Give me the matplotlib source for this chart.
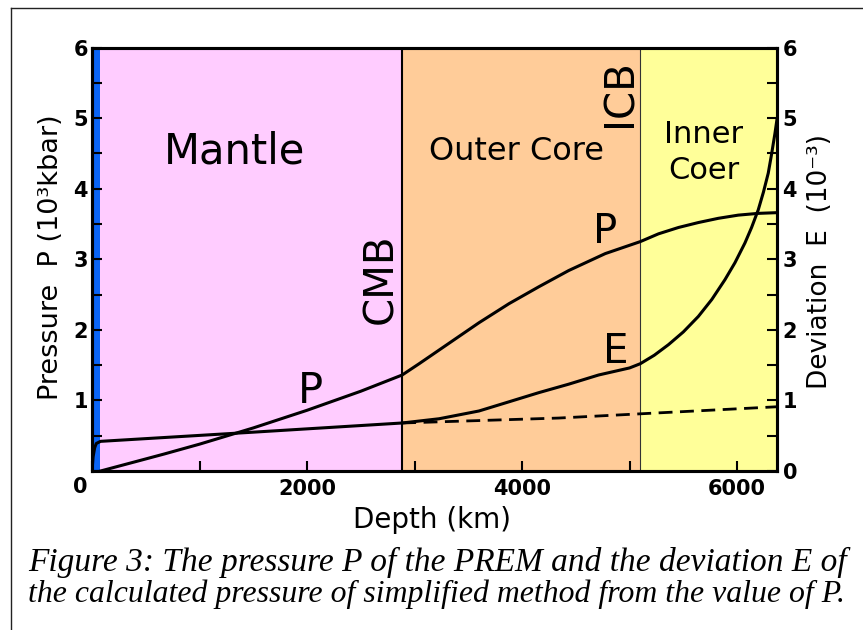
import matplotlib
matplotlib.use('Agg')
import matplotlib.pyplot as plt
from matplotlib.lines import Line2D

plt.rcParams['font.family'] = 'DejaVu Sans'

# Earth layers (depth in km)
layer_top    = [0, 75, 2885, 5100]
layer_bottom = [75, 2885, 5100, 6371]
layer_colors = ['#0A64F5', '#FFCCFF', '#FFCC99', '#FFFF99']

# PREM pressure P (10^3 kbar)
p_depth = [80, 400, 670, 1000, 1500, 2000, 2500, 2885, 3043, 3321, 3599, 3878,
           4156, 4434, 4774, 5100, 5269, 5455, 5640, 5826, 6011, 6197, 6371]
p_val   = [0.0, 0.13, 0.24, 0.38, 0.61, 0.86, 1.13, 1.36, 1.52, 1.81, 2.10, 2.37,
           2.61, 2.84, 3.08, 3.25, 3.36, 3.45, 3.52, 3.58, 3.625, 3.65, 3.66]

# deviation E (10^-3)
e_depth = [0, 10, 25, 40, 80, 1500, 2885, 3228, 3599, 3878, 4156, 4434, 4712,
           5000, 5100, 5230, 5362, 5500, 5640, 5765, 5887, 5980, 6073, 6135,
           6197, 6245, 6290, 6320, 6352, 6371]
e_val   = [0.0, 0.2, 0.33, 0.39, 0.42, 0.55, 0.68, 0.74, 0.85, 0.98, 1.11, 1.23, 1.36,
           1.46, 1.52, 1.64, 1.79, 1.97, 2.19, 2.43, 2.71, 2.95, 3.23, 3.45,
           3.70, 3.95, 4.22, 4.48, 4.78, 4.98]

# deviation of the simplified method (dashed)
es_depth = [2885, 4340, 5100, 6371]
es_val   = [0.68, 0.75, 0.81, 0.91]

fig = plt.figure(figsize=(8.63, 6.30), dpi=100)
ax = fig.add_axes([0.1066, 0.2524, 0.7937, 0.6722])

for t, b, c in zip(layer_top, layer_bottom, layer_colors):
    ax.axvspan(t, b, color=c, lw=0, zorder=0)
ax.axvline(layer_top[2], color='black', lw=1.5, zorder=1)
ax.axvline(layer_top[3], color='#333333', lw=0.8, zorder=1)

ax.plot(p_depth, p_val, color='black', lw=2.2, zorder=3)

ax2 = ax.twinx()
ax2.plot(e_depth, e_val, color='black', lw=2.2)
ax2.plot(es_depth, es_val, color='black', lw=2.0, dashes=(5, 2.7))

ax.set_xlim(0, 6371)
ax.set_ylim(0, 6)
ax2.set_ylim(0, 6)

ax.set_xticks([0, 2000, 4000, 6000])
ax.set_xticklabels(['', '2000', '4000', '6000'], fontsize=15, fontweight='bold')
ax.set_xticks([1000, 3000, 5000], minor=True)
ax.set_yticks(range(7))
ax.set_yticklabels(['', '1', '2', '3', '4', '5', '6'], fontsize=15, fontweight='bold')
ax.set_yticks([0.5, 1.5, 2.5, 3.5, 4.5, 5.5], minor=True)
ax2.set_yticks(range(7))
ax2.set_yticklabels(['0', '1', '2', '3', '4', '5', '6'], fontsize=15, fontweight='bold')
ax2.set_yticks([0.5, 1.5, 2.5, 3.5, 4.5, 5.5], minor=True)

ax.tick_params(which='both', direction='in', length=7, width=1.5, top=False, right=False)
ax.tick_params(axis='x', pad=6)
ax.tick_params(axis='y', pad=3)
ax2.tick_params(which='both', direction='in', length=7, width=1.5, pad=4)
for a in (ax, ax2):
    for s in a.spines.values():
        s.set_linewidth(2.2)

# origin label
ax.text(-0.0175, -0.038, '0', transform=ax.transAxes, ha='center', va='center',
        fontsize=15, fontweight='bold')

# axis titles
ax.text(-0.0599, 0.505, 'Pressure  P (10³kbar)', transform=ax.transAxes,
        rotation=90, ha='center', va='center', fontsize=19.5)
ax.text(1.063, 0.494, 'Deviation  E  (10⁻³)', transform=ax.transAxes,
        rotation=90, ha='center', va='center', fontsize=19)
ax.text(0.496, -0.1157, 'Depth (km)', transform=ax.transAxes,
        ha='center', va='center', fontsize=20)

# region and curve labels
ax.text(1327, 4.52, 'Mantle', ha='center', va='center', fontsize=30)
ax.text(3952, 4.52, 'Outer Core', ha='center', va='center', fontsize=23)
ax.text(5687, 4.51, 'Inner\nCoer', ha='center', va='center', fontsize=22, linespacing=1.3)
ax.text(2688, 2.72, 'CMB', rotation=90, ha='center', va='center', fontsize=29)
ax.text(4920, 5.35, 'ICB', rotation=90, ha='center', va='center', fontsize=29)
ax.text(2032, 1.13, 'P', ha='center', va='center', fontsize=30)
ax.text(4777, 3.39, 'P', ha='center', va='center', fontsize=29)
ax.text(4870, 1.69, 'E', ha='center', va='center', fontsize=29)

# caption
cap_font = dict(family='Liberation Serif', style='italic')
fig.text(28 / 863, 1 - 562 / 630, 'Figure 3: The pressure P of the PREM and the deviation E of',
         ha='left', va='center', fontsize=24, **cap_font)
fig.text(28 / 863, 1 - 594 / 630, 'the calculated pressure of simplified method from the value of P.',
         ha='left', va='center', fontsize=22.9, **cap_font)

# page frame
fig.add_artist(Line2D([11 / 863, 1], [1 - 8 / 630, 1 - 8 / 630], color='#222222', lw=1))
fig.add_artist(Line2D([11 / 863, 11 / 863], [0, 1 - 8 / 630], color='#222222', lw=1))

fig.savefig('out.png', dpi=100)
